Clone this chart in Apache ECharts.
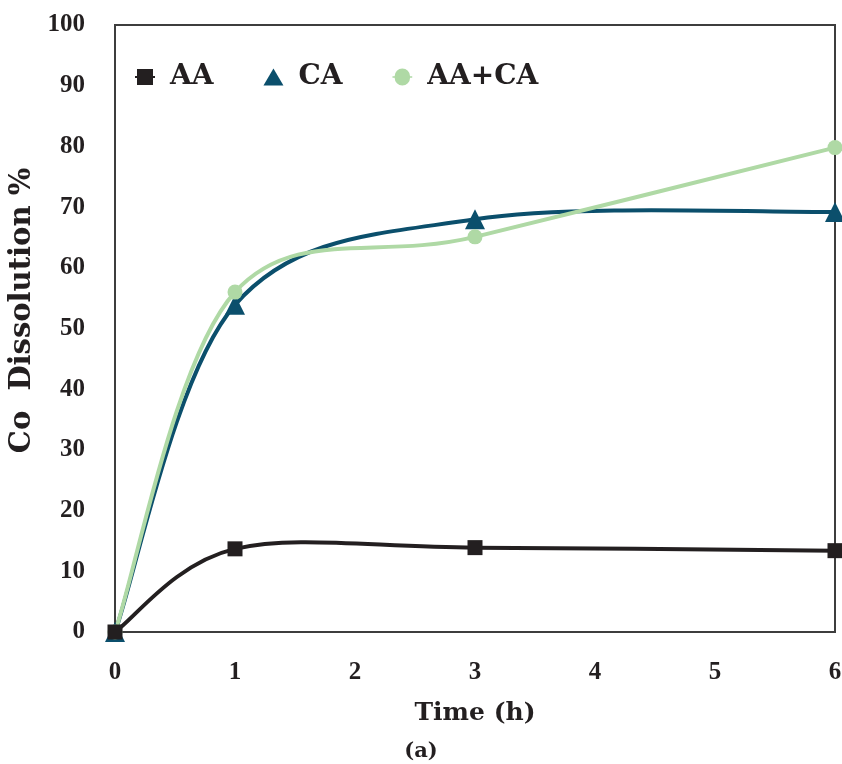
<!DOCTYPE html>
<html>
<head>
<meta charset="utf-8">
<script src="https://cdn.jsdelivr.net/npm/echarts@6/dist/echarts.min.js"></script>
<style>
  html, body { margin: 0; padding: 0; background: #fff; }
  #chart { width: 842px; height: 764px; }
</style>
</head>
<body>
<div id="chart"></div>
<script>
// Sampling times (h)
const times = [0, 1, 3, 6];
// Co dissolution (%) per leaching agent
const seriesAA = [0, 13.7, 13.9, 13.4];
const seriesCA = [0, 53.9, 68.0, 69.2];
const seriesAACA = [0, 56.0, 65.1, 79.8];
const seriesNames = ['AA', 'CA', 'AA+CA'];
const yTicks = [0, 10, 20, 30, 40, 50, 60, 70, 80, 90, 100];
const xTicks = [0, 1, 2, 3, 4, 5, 6];

const titleFont = '"DejaVu Serif", serif';
const tickFont = '"Liberation Serif", "DejaVu Serif", serif';
const ink = '#231f20';
const frame = '#3d3d3d';
const colors = { 'AA': '#231f20', 'CA': '#0b4f6c', 'AA+CA': '#afd9a5' };
const symbols = { 'AA': ['rect', 15], 'CA': ['triangle', 20], 'AA+CA': ['circle', 15] };
// legend keys: marker with short line stubs on either side
const legendIcons = {
  'AA': 'path://M0,7L2,7L2,0L18,0L18,7L20,7L20,9L18,9L18,16L2,16L2,9L0,9Z',
  'CA': 'triangle',
  'AA+CA': 'path://M0,7.2L2.2,7.2A7.8,7.8,0,0,1,17.8,7.2L20,7.2L20,8.8L17.8,8.8A7.8,7.8,0,0,1,2.2,8.8L0,8.8Z'
};
const lineWidth = 4;

function pairs(values) {
  return times.map((t, i) => [t, values[i]]);
}

// Smoothed curve through the points (cardinal spline, 1/6 tangent factor),
// computed in pixel space from the axis scales.
function curveSeries(name, values, z) {
  return {
    name: name,
    type: 'custom',
    coordinateSystem: 'cartesian2d',
    data: [[times[0], values[0]]],
    encode: { x: 0, y: 1 },
    silent: true,
    z: z,
    renderItem: function (params, api) {
      const p = times.map((t, i) => api.coord([t, values[i]]));
      const n = p.length;
      const at = (i) => p[Math.max(0, Math.min(n - 1, i))];
      const children = [];
      for (let i = 0; i < n - 1; i++) {
        const p0 = at(i - 1), p1 = at(i), p2 = at(i + 1), p3 = at(i + 2);
        children.push({
          type: 'bezierCurve',
          shape: {
            x1: p1[0], y1: p1[1],
            cpx1: p1[0] + (p2[0] - p0[0]) / 6, cpy1: p1[1] + (p2[1] - p0[1]) / 6,
            cpx2: p2[0] - (p3[0] - p1[0]) / 6, cpy2: p2[1] - (p3[1] - p1[1]) / 6,
            x2: p2[0], y2: p2[1]
          },
          style: { stroke: colors[name], lineWidth: lineWidth, fill: null, lineCap: 'round', lineJoin: 'round' }
        });
      }
      return { type: 'group', children: children };
    }
  };
}

// Point markers for each series (line itself drawn by the curve series)
function markerSeries(name, values, z) {
  return {
    name: name,
    type: 'line',
    data: pairs(values),
    symbol: symbols[name][0],
    symbolSize: symbols[name][1],
    showAllSymbol: true,
    lineStyle: { opacity: 0 },
    itemStyle: { color: colors[name] },
    z: z
  };
}

const chart = echarts.init(document.getElementById('chart'), null, { renderer: 'canvas' });

chart.setOption({
  animation: false,
  backgroundColor: '#ffffff',
  title: {
    text: '(a)',
    left: 421,
    top: 741,
    textAlign: 'center',
    padding: 0,
    textStyle: { fontFamily: titleFont, fontWeight: 'bold', fontSize: 21, color: ink }
  },
  legend: {
    left: 135,
    top: 63,
    padding: 0,
    itemGap: 50,
    itemWidth: 20,
    itemHeight: 17,
    textStyle: { fontFamily: titleFont, fontWeight: 'bold', fontSize: 28, color: ink, padding: [0, 0, 0, 10] },
    data: seriesNames.map((name) => ({
      name: name,
      icon: legendIcons[name],
      itemStyle: { color: colors[name] }
    }))
  },
  grid: { left: 115, right: 7, top: 25, bottom: 132, containLabel: false, outerBoundsMode: 'none', show: false },
  xAxis: {
    type: 'value',
    min: xTicks[0],
    max: xTicks[xTicks.length - 1],
    interval: 1,
    name: 'Time (h)',
    nameLocation: 'middle',
    nameGap: 69,
    nameTextStyle: { fontFamily: titleFont, fontWeight: 'bold', fontSize: 25, color: ink },
    axisLine: { show: true, onZero: false, lineStyle: { color: frame, width: 2 } },
    axisTick: { show: false },
    splitLine: { show: false },
    axisLabel: { margin: 28, fontFamily: tickFont, fontWeight: 'bold', fontSize: 25, color: ink }
  },
  yAxis: {
    type: 'value',
    min: yTicks[0],
    max: yTicks[yTicks.length - 1],
    interval: 10,
    name: 'Co  Dissolution %',
    nameLocation: 'middle',
    nameGap: 74,
    nameRotate: 90,
    nameTextStyle: { fontFamily: titleFont, fontWeight: 'bold', fontSize: 29, color: ink, padding: [0, 0, 0, 36] },
    axisLine: { show: true, lineStyle: { color: frame, width: 2 } },
    axisTick: { show: false },
    splitLine: { show: false },
    axisLabel: { margin: 30, fontFamily: tickFont, fontWeight: 'bold', fontSize: 25, color: ink }
  },
  series: [
    curveSeries('AA', seriesAA, 2),
    curveSeries('CA', seriesCA, 3),
    curveSeries('AA+CA', seriesAACA, 4),
    markerSeries('CA', seriesCA, 6),
    markerSeries('AA+CA', seriesAACA, 7),
    markerSeries('AA', seriesAA, 8),
    {
      // plot frame around the full axis range
      name: 'frame',
      type: 'line',
      data: [],
      silent: true,
      markArea: {
        silent: true,
        itemStyle: { color: 'rgba(0,0,0,0)', borderColor: frame, borderWidth: 2 },
        data: [[{ coord: [xTicks[0], yTicks[0]] }, { coord: [xTicks[xTicks.length - 1], yTicks[yTicks.length - 1]] }]]
      }
    }
  ]
});
</script>
</body>
</html>
